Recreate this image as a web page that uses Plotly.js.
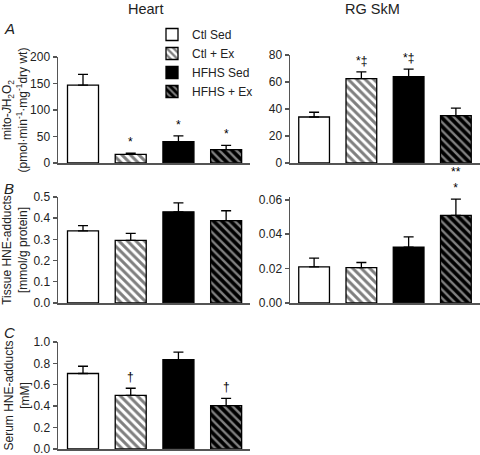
<!DOCTYPE html>
<html>
<head>
<meta charset="utf-8">
<script src="https://cdn.plot.ly/plotly-3.0.1.min.js"></script>
<style>html,body{margin:0;padding:0;background:#fff;}#chart{width:480px;height:455px;}</style>
</head>
<body>
<div id="chart"></div>
<script>
// ---- data ----
const groups = ['Ctl Sed', 'Ctl + Ex', 'HFHS Sed', 'HFHS + Ex'];
const heartH2O2 = [147, 16, 40, 25];
const heartH2O2Err = [20, 2, 11, 8];
const skmH2O2 = [34, 62.5, 64, 35];
const skmH2O2Err = [3.5, 5, 5.5, 5.5];
const heartHNE = [0.34, 0.295, 0.43, 0.388];
const heartHNEErr = [0.025, 0.033, 0.042, 0.047];
const skmHNE = [0.021, 0.0205, 0.0325, 0.051];
const skmHNEErr = [0.005, 0.003, 0.006, 0.0095];
const serumHNE = [0.705, 0.5, 0.835, 0.405];
const serumHNEErr = [0.068, 0.067, 0.07, 0.068];
const heartH2O2Sig = ['', '*', '*', '*'];
const skmH2O2Sig = ['', '*‡', '*‡', ''];
const skmHNESig = ['', '', '', '**<br>*'];
const serumHNESig = ['', '†', '', '†'];
const heartH2O2Ticks = [0, 50, 100, 150, 200];
const skmH2O2Ticks = [0, 20, 40, 60, 80];
const heartHNETicks = [0, 0.1, 0.2, 0.3, 0.4, 0.5];
const skmHNETicks = [0, 0.02, 0.04, 0.06];
const serumHNETicks = [0, 0.2, 0.4, 0.6, 0.8, 1.0];

// ---- styles ----
const FONT = '"Liberation Sans", Arial, sans-serif';
const styles = [
  {color: 'white', pattern: {shape: ''}},
  {color: 'white', pattern: {shape: '\\', fgcolor: 'black', bgcolor: 'white', size: 6, solidity: 0.5, fillmode: 'overlay'}},
  {color: 'black', pattern: {shape: ''}},
  {color: 'black', pattern: {shape: '\\', fgcolor: 'white', bgcolor: 'black', size: 6, solidity: 0.4, fillmode: 'overlay'}}
];

const panels = [
  {vals: heartH2O2, errs: heartH2O2Err, sig: heartH2O2Sig, xa: 'x', ya: 'y', legend: true},
  {vals: skmH2O2, errs: skmH2O2Err, sig: skmH2O2Sig, xa: 'x2', ya: 'y2'},
  {vals: heartHNE, errs: heartHNEErr, sig: [], xa: 'x3', ya: 'y3'},
  {vals: skmHNE, errs: skmHNEErr, sig: skmHNESig, xa: 'x4', ya: 'y4'},
  {vals: serumHNE, errs: serumHNEErr, sig: serumHNESig, xa: 'x5', ya: 'y5'}
];

const traces = [];
const annotations = [];
panels.forEach(p => {
  groups.forEach((g, i) => {
    traces.push({
      type: 'bar', x: [i], y: [p.vals[i]], name: g,
      xaxis: p.xa, yaxis: p.ya, width: 0.65,
      showlegend: !!p.legend,
      marker: {color: styles[i].color, pattern: styles[i].pattern, line: {color: 'black', width: 1.3}},
      error_y: {type: 'data', symmetric: false, array: [p.errs[i]], arrayminus: [0], color: 'black', thickness: 1.3, width: 5}
    });
    if (p.sig[i]) {
      annotations.push({
        xref: p.xa, yref: p.ya, x: i, y: p.vals[i] + p.errs[i],
        text: p.sig[i], showarrow: false, yanchor: 'bottom', xanchor: 'center', yshift: 2,
        font: {family: FONT, size: 12, color: '#000'}
      });
    }
  });
});

const axLine = '#555';
function xax(domain, range, anchor) {
  return {domain: domain, range: range, anchor: anchor, showline: true, linecolor: axLine, linewidth: 1.5,
    showticklabels: false, ticks: '', showgrid: false, zeroline: false, fixedrange: true};
}
function yax(domain, top, ticks, fmt, anchor, title, standoff) {
  const ax = {domain: domain, range: [-top * 0.002, top], tickmode: 'array', tickvals: ticks, tickformat: fmt,
    showline: true, linecolor: axLine, linewidth: 1.5, ticks: 'outside', ticklen: 4,
    tickcolor: axLine, tickwidth: 1.5, showgrid: false, zeroline: false, anchor: anchor,
    ticklabeloverflow: 'allow', tickfont: {size: 12, color: '#222'}};
  if (title) ax.title = {text: title, font: {size: 12, color: '#222'}, standoff: standoff};
  return ax;
}

const W = 480, H = 455;
const hx = [58 / W, 250 / W], sx = [290 / W, 1];
const hr = [-0.524, 3.5], sr = [-0.51, 3.51];

// titles & labels
const txt = (x, y, text, extra) => Object.assign({xref: 'paper', yref: 'paper', x: x / W, y: 1 - y / H,
  xanchor: 'center', yanchor: 'middle', text: text, showarrow: false, font: {size: 12, color: '#222'}}, extra || {});
annotations.push(txt(145, 9, 'Heart', {font: {size: 14.5, color: '#222'}}));
annotations.push(txt(372, 9, 'RG SkM', {font: {size: 14.5, color: '#222'}}));
annotations.push(txt(2, 28, '<i>A</i>', {xanchor: 'left', font: {size: 15, color: '#222'}}));
annotations.push(txt(2, 188, '<i>B</i>', {xanchor: 'left', font: {size: 15, color: '#222'}}));
annotations.push(txt(2, 332, '<i>C</i>', {xanchor: 'left', font: {size: 15, color: '#222'}}));

const layout = {
  width: W, height: H, margin: {l: 0, r: 0, t: 0, b: 0},
  paper_bgcolor: 'white', plot_bgcolor: 'white',
  barmode: 'overlay', bargap: 0,
  font: {family: FONT, color: '#222'},
  showlegend: true,
  legend: {x: 152 / W, y: 1 - 20 / H, xanchor: 'left', yanchor: 'top', bgcolor: 'rgba(0,0,0,0)',
    font: {size: 12, color: '#222'}, tracegroupgap: 0, itemclick: false},
  xaxis: xax(hx, hr, 'y'),
  yaxis: yax([1 - 163 / H, 1 - 57 / H], 200, heartH2O2Ticks, 'd', 'x',
    'mito-<i>J</i>H<sub>2</sub>O<sub>2</sub><br>(pmol·min<sup>-1</sup>·mg<sup>-1</sup>dry wt)', 6),
  xaxis2: xax(sx, sr, 'y2'),
  yaxis2: yax([1 - 163 / H, 1 - 55 / H], 80, skmH2O2Ticks, 'd', 'x2'),
  xaxis3: xax(hx, hr, 'y3'),
  yaxis3: yax([1 - 303 / H, 1 - 197 / H], 0.5, heartHNETicks, '.1f', 'x3', 'Tissue HNE-adducts<br>[mmol/g protein]', 4),
  xaxis4: xax(sx, sr, 'y4'),
  yaxis4: yax([1 - 303 / H, 1 - 197 / H], 0.0617, skmHNETicks, '.2f', 'x4'),
  xaxis5: xax(hx, hr, 'y5'),
  yaxis5: yax([1 - 449 / H, 1 - 342 / H], 1.0, serumHNETicks, '.1f', 'x5', 'Serum HNE-adducts<br>[mM]', 1),
  annotations: annotations
};

Plotly.newPlot('chart', traces, layout, {displayModeBar: false, staticPlot: true});
</script>
</body>
</html>
